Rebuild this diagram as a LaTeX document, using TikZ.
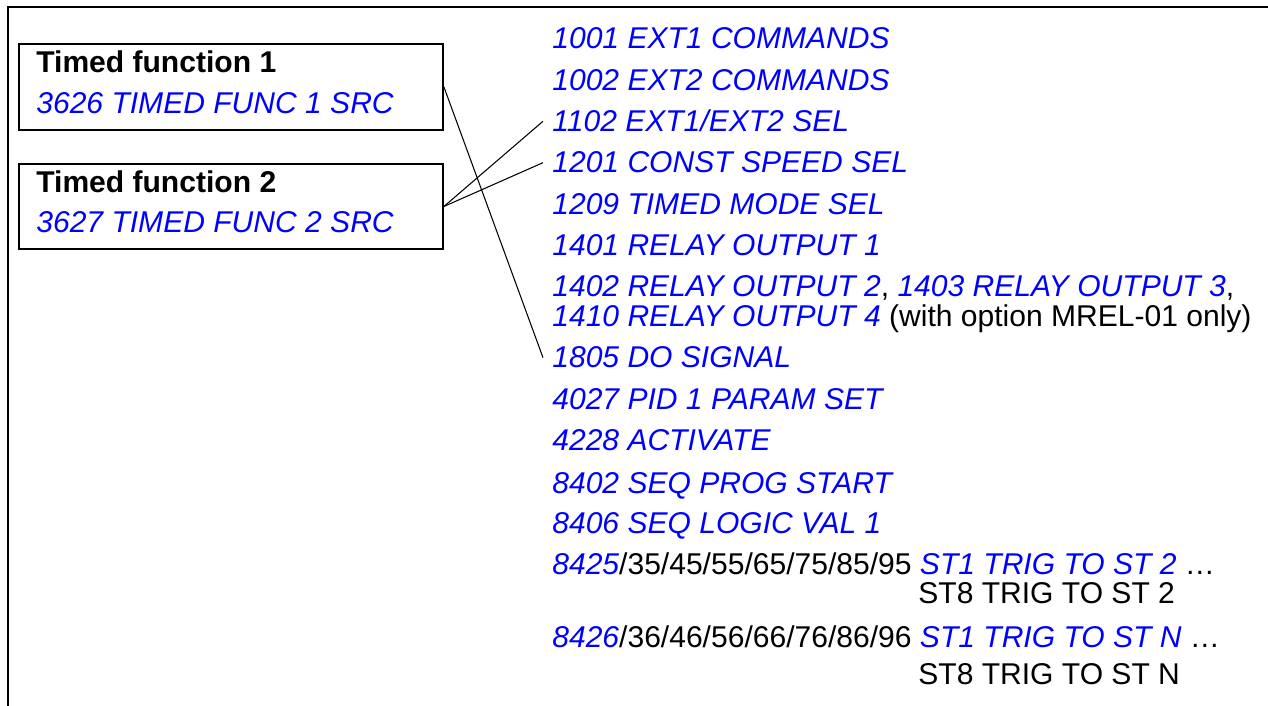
\documentclass[tikz,border=0pt]{standalone}
\usepackage{fontspec}
\setmainfont{Liberation Sans}
\usepackage{xcolor,tikz}
\definecolor{parblue}{RGB}{0,0,255}
\newcommand{\prm}[1]{{\color{parblue}\itshape #1}}

\begin{document}
\begin{tikzpicture}[every node/.style={font=\fontsize{17.1}{20}\selectfont},
  lst/.style={anchor=base west,inner xsep=.18cm,inner ysep=0pt},
  tfbox/.style={draw,line width=1.1pt,anchor=north west,minimum width=8.48cm,minimum height=1.72cm,inner sep=0pt}]
\useasboundingbox (0,0) rectangle (25.36,-14.12);
\draw[line width=1.4pt] (25.36,-0.14)--(0.16,-0.14)--(0.16,-14.12);
\node[tfbox] (tf1) at (0.36,-0.86) {};
\node[lst] (tf1a) at (0.54,-1.46) {\bfseries Timed function 1};
\node[lst] (tf1b) at (0.54,-2.28) {\prm{3626 TIMED FUNC 1 SRC}};
\node[tfbox,minimum height=1.70cm] (tf2) at (0.36,-3.26) {};
\node[lst] (tf2a) at (0.54,-3.86) {\bfseries Timed function 2};
\node[lst] (tf2b) at (0.54,-4.66) {\prm{3627 TIMED FUNC 2 SRC}};
\node[lst] (p1001) at (10.86,-0.98) {\prm{1001 EXT1 COMMANDS}};
\node[lst] (p1002) at (10.86,-1.82) {\prm{1002 EXT2 COMMANDS}};
\node[lst] (p1102) at (10.86,-2.64) {\prm{1102 EXT1/EXT2 SEL}};
\node[lst] (p1201) at (10.86,-3.46) {\prm{1201 CONST SPEED SEL}};
\node[lst] (p1209) at (10.86,-4.30) {\prm{1209 TIMED MODE SEL}};
\node[lst] (p1401) at (10.86,-5.12) {\prm{1401 RELAY OUTPUT 1}};
\node[lst] (p1402) at (10.86,-5.94) {\prm{1402 RELAY OUTPUT 2}, \prm{1403 RELAY OUTPUT 3},};
\node[lst] (p1410) at (10.86,-6.54) {\prm{1410 RELAY OUTPUT 4} (with option MREL-01 only)};
\node[lst] (p1805) at (10.86,-7.36) {\prm{1805 DO SIGNAL}};
\node[lst] (p4027) at (10.86,-8.20) {\prm{4027 PID 1 PARAM SET}};
\node[lst] (p4228) at (10.86,-9.02) {\prm{4228 ACTIVATE}};
\node[lst] (p8402) at (10.86,-9.86) {\prm{8402 SEQ PROG START}};
\node[lst] (p8406) at (10.86,-10.66) {\prm{8406 SEQ LOGIC VAL 1}};
\node[lst] (p8425) at (10.86,-11.50) {\prm{8425}/35/45/55/65/75/85/95 \prm{ST1 TRIG TO ST 2} …};
\node[lst] (p8425b) at (18.18,-12.08) {ST8 TRIG TO ST 2};
\node[lst] (p8426) at (10.86,-12.94) {\prm{8426}/36/46/56/66/76/86/96 \prm{ST1 TRIG TO ST N} …};
\node[lst] (p8426b) at (18.18,-13.68) {ST8 TRIG TO ST N};
\draw[line width=.6pt] (tf1.east)--(p1805.west);
\draw[line width=.6pt] (tf2.east)--(p1102.west);
\draw[line width=.6pt] (tf2.east)--(p1201.west);
\end{tikzpicture}
\end{document}
